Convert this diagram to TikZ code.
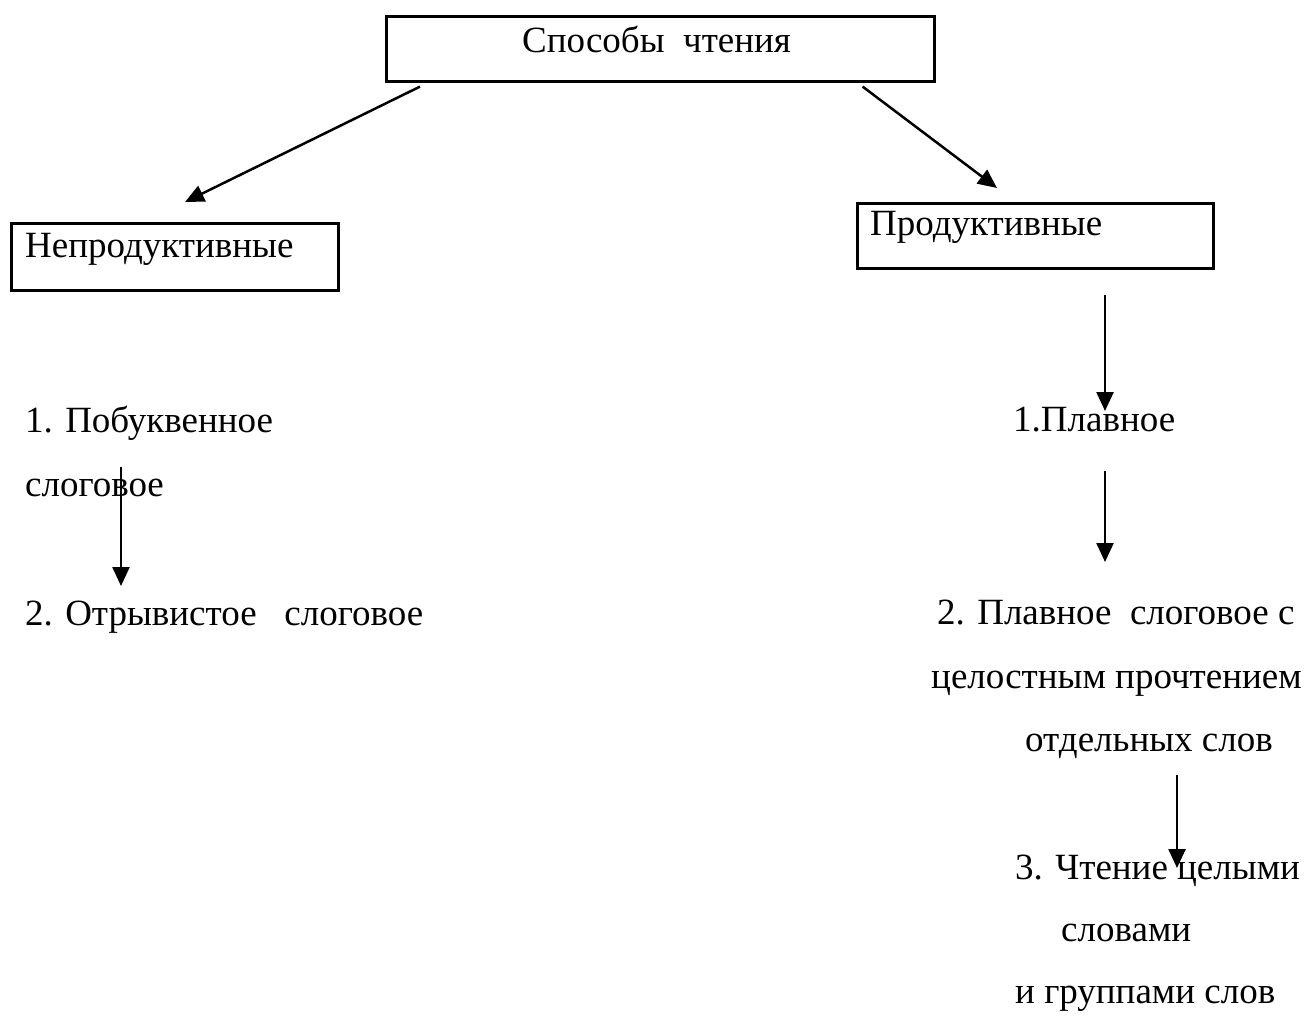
\documentclass[tikz,border=0pt]{standalone}
\usepackage{fontspec}
\setmainfont{Liberation Serif}
\usetikzlibrary{arrows.meta}
\begin{document}
\begin{tikzpicture}[x=1pt,y=-1pt,
  box/.style={draw, line width=2.6pt, anchor=north west, inner sep=0pt},
  txt/.style={anchor=base west, inner sep=0pt, font=\fontsize{37}{40}\selectfont},
  arr/.style={line width=2.5pt, -{Triangle[length=19pt,width=17pt]}}]
\useasboundingbox (0,0) rectangle (1308,1016);
% boxes
\node[box, minimum width=548pt, minimum height=65pt] (top) at (385,15) {};
\node[box, minimum width=327pt, minimum height=67pt] (neprod) at (10,222) {};
\node[box, minimum width=356pt, minimum height=65pt] (prod) at (856,202) {};
% texts
\node[txt] (t0) at (522,53) {Способы\ \ чтения};
\node[txt] (t1) at (25,258) {Непродуктивные};
\node[txt] (t2) at (870,236) {Продуктивные};
\node[txt] (l1) at (25,432) {1. Побуквенное};
\node[txt] (l2) at (25,496) {слоговое};
\node[txt] (l3) at (25,625) {2. Отрывистое\ \ \ слоговое};
\node[txt] (r1) at (1013,431) {1.Плавное};
\node[txt] (r2) at (937,624) {2. Плавное\ \ слоговое с};
\node[txt] (r3) at (931,688) {целостным прочтением};
\node[txt] (r4) at (1025,751) {отдельных слов};
\node[txt] (r5) at (1015,879) {3. Чтение целыми};
\node[txt] (r6) at (1061,941) {словами};
\node[txt] (r7) at (1015,1003) {и группами слов};
% connector ends
\coordinate (e1) at (185,202);
\coordinate (e2) at (997,188);
\coordinate (s3) at (1105,295);
\coordinate (e3) at (1105,411);
\coordinate (s4) at (1105,471);
\coordinate (e4) at (1105,562);
\coordinate (s5) at (121,467);
\coordinate (e5) at (121,586);
\coordinate (s6) at (1177,775);
\coordinate (e6) at (1177,868);
% connectors
\draw[arr] ([xshift=35pt,yshift=-4pt]top.south west) -- (e1);
\draw[arr] ([xshift=-73pt,yshift=-4pt]top.south east) -- (e2);
\draw[arr] (s3) -- (e3);
\draw[arr] (s4) -- (e4);
\draw[arr] (s5) -- (e5);
\draw[arr] (s6) -- (e6);
\end{tikzpicture}
\end{document}
